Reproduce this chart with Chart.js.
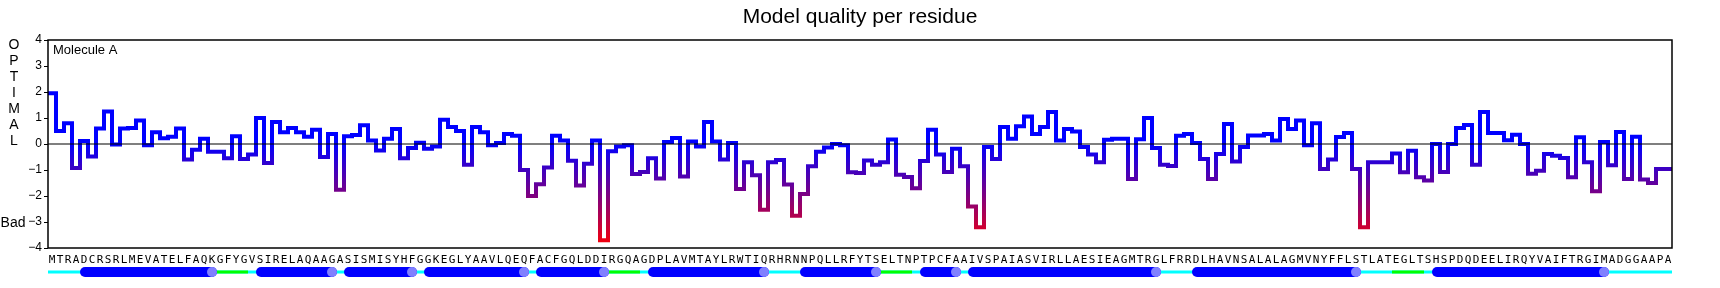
<!DOCTYPE html>
<html>
<head>
<meta charset="utf-8">
<script src="https://cdn.jsdelivr.net/npm/chart.js@4.4.1/dist/chart.umd.min.js"></script>
<style>
    html, body { margin: 0; padding: 0; background: #fff; }
    #wrap { width: 1720px; height: 288px; }
</style>
</head>
<body>
<div id="wrap"><canvas id="chartCalidad"></canvas></div>
<script>
const secuencia = "MTRADCRSRLMEVATELFAQKGFYGVSIRELAQAAGASISMISYHFGGKEGLYAAVLQEQFACFGQLDDIRGQAGDPLAVMTAYLRWTIQRHRNNPQLLRFYTSELTNPTPCFAAIVSPAIASVIRLLAESIEAGMTRGLFRRDLHAVNSALALAGMVNYFFLSTLATEGLTSHSPDQDEELIRQYVAIFTRGIMADGGAAPA".split("");

const calidad = [
    1.95, 0.5, 0.8, -0.92, 0.12, -0.48, 0.6, 1.25, -0.02, 0.6,
    0.62, 0.9, -0.05, 0.45, 0.22, 0.28, 0.6, -0.6, -0.22, 0.2,
    -0.3, -0.3, -0.55, 0.3, -0.58, -0.4, 1.0, -0.73, 0.85, 0.45,
    0.62, 0.45, 0.28, 0.55, -0.5, 0.38, -1.76, 0.3, 0.35, 0.72,
    0.13, -0.25, 0.2, 0.58, -0.55, -0.15, 0.05, -0.18, -0.1, 0.93,
    0.65, 0.5, -0.8, 0.65, 0.45, -0.05, 0.04, 0.38, 0.32, -1.0,
    -2.0, -1.55, -0.9, 0.32, 0.13, -0.64, -1.6, -0.76, 0.13, -3.7,
    -0.28, -0.1, -0.05, -1.15, -1.08, -0.55, -1.33, 0.08, 0.23, -1.25,
    0.1, -0.1, 0.85, 0.1, -0.6, 0.04, -1.73, -0.7, -1.2, -2.53,
    -0.7, -0.62, -1.56, -2.76, -1.92, -0.86, -0.3, -0.13, 0.0, -0.05,
    -1.09, -1.12, -0.63, -0.8, -0.7, 0.17, -1.18, -1.27, -1.7, -0.65,
    0.55, -0.4, -1.08, -0.18, -0.86, -2.4, -3.2, -0.12, -0.58, 0.65,
    0.2, 0.68, 1.06, 0.38, 0.65, 1.23, 0.13, 0.58, 0.48, -0.12,
    -0.4, -0.7, 0.16, 0.2, 0.2, -1.35, 0.18, 1.0, -0.15, -0.8,
    -0.85, 0.32, 0.38, 0.04, -0.58, -1.35, -0.38, 0.77, -0.67, -0.12,
    0.33, 0.33, 0.38, 0.13, 0.96, 0.58, 0.9, -0.05, 0.8, -0.96,
    -0.6, 0.27, 0.42, -0.96, -3.2, -0.7, -0.7, -0.7, -0.37, -1.09,
    -0.26, -1.28, -1.4, 0.0, -1.08, 0.0, 0.62, 0.73, -0.8, 1.23,
    0.42, 0.42, 0.14, 0.36, 0.0, -1.14, -1.03, -0.38, -0.45, -0.54,
    -1.28, 0.26, -0.7, -1.82, 0.08, -0.82, 0.46, -1.35, 0.28, -1.37,
    -1.5, -0.96, -0.96
];

// estructura secundaria (indices de residuo, inclusive)
const heliceInicio = [4, 26, 37, 47, 61, 75, 94, 109, 115, 143, 173];
const heliceFin    = [20, 35, 45, 59, 69, 89, 103, 113, 138, 163, 194];
const giroInicio   = [21, 70, 104, 168];
const giroFin      = [24, 73, 107, 171];

const ticksY = [4, 3, 2, 1, 0, -1, -2, -3, -4];

// puntos escalonados: cada residuo ocupa [i-0.5, i+0.5]
const puntos = calidad.map((v, i) => ({ x: i - 0.5, y: v }));
puntos.push({ x: calidad.length - 0.5, y: calidad[calidad.length - 1] });

const marcoYTextos = {
    id: "marcoYTextos",
    afterDraw(chart) {
        const { ctx, chartArea } = chart;
        const y = chart.scales.y;
        ctx.save();
        // linea del cero
        ctx.strokeStyle = "#000";
        ctx.lineWidth = 1.2;
        ctx.beginPath();
        ctx.moveTo(chartArea.left, y.getPixelForValue(0));
        ctx.lineTo(chartArea.right, y.getPixelForValue(0));
        ctx.stroke();
        // marco
        ctx.lineWidth = 1.5;
        ctx.strokeRect(chartArea.left, chartArea.top, chartArea.right - chartArea.left, chartArea.bottom - chartArea.top);

        ctx.fillStyle = "#000";
        ctx.font = "13px 'Liberation Sans', Arial, sans-serif";
        ctx.textAlign = "left";
        ctx.textBaseline = "top";
        ctx.fillText("Molecule A", chartArea.left + 5, chartArea.top + 4);

        ctx.font = "14px 'Liberation Sans', Arial, sans-serif";
        ctx.textAlign = "center";
        ctx.textBaseline = "middle";
        "OPTIMAL".split("").forEach((c, k) => {
            ctx.fillText(c, 14, chartArea.top + 5 + k * 16);
        });
        ctx.fillText("Bad", 13, y.getPixelForValue(-3.05));
        ctx.restore();
    }
};

const pistaEstructura = {
    id: "pistaEstructura",
    afterDraw(chart) {
        const { ctx } = chart;
        const x = chart.scales.x;
        const yc = x.bottom - 16;
        const px = v => x.getPixelForValue(v);
        ctx.save();
        ctx.lineCap = "butt";
        ctx.lineWidth = 3;
        ctx.strokeStyle = "#00ffff";
        ctx.beginPath();
        ctx.moveTo(px(-0.5), yc);
        ctx.lineTo(px(secuencia.length - 0.5), yc);
        ctx.stroke();

        ctx.strokeStyle = "#00ff00";
        giroInicio.forEach((s, k) => {
            ctx.beginPath();
            ctx.moveTo(px(s - 0.5), yc);
            ctx.lineTo(px(giroFin[k] + 0.5), yc);
            ctx.stroke();
        });

        heliceInicio.forEach((s, k) => {
            const x0 = px(s - 0.5) + 5;
            const x1 = px(heliceFin[k]);
            ctx.lineCap = "round";
            ctx.lineWidth = 10;
            ctx.strokeStyle = "#0000ff";
            ctx.beginPath();
            ctx.moveTo(x0, yc);
            ctx.lineTo(x1, yc);
            ctx.stroke();
            ctx.fillStyle = "#8080ff";
            ctx.beginPath();
            ctx.arc(x1, yc, 5, 0, Math.PI * 2);
            ctx.fill();
        });
        ctx.restore();
    }
};

function colorLinea(c) {
    const chart = c.chart;
    if (!chart.chartArea) return "#0000ff";
    const y = chart.scales.y;
    const g = chart.ctx.createLinearGradient(0, y.getPixelForValue(0), 0, y.getPixelForValue(-4));
    g.addColorStop(0, "#0000ff");
    g.addColorStop(1, "#ff0000");
    return g;
}

new Chart(document.getElementById("chartCalidad"), {
    type: "line",
    data: {
        datasets: [{
            label: "Calidad",
            data: puntos,
            stepped: true,
            borderColor: colorLinea,
            borderWidth: 4,
            borderJoinStyle: "miter",
            pointRadius: 0,
            fill: false,
            tension: 0
        }]
    },
    options: {
        responsive: true,
        maintainAspectRatio: false,
        animation: false,
        layout: { padding: 0 },
        plugins: {
            legend: { display: false },
            tooltip: { enabled: false },
            title: {
                display: true,
                text: "Model quality per residue",
                color: "#000",
                font: { family: "'Liberation Sans', Arial, sans-serif", size: 21, weight: "normal" },
                padding: { top: 5, bottom: 9.8 }
            }
        },
        scales: {
            x: {
                type: "linear",
                min: -0.5,
                max: secuencia.length - 0.5,
                afterBuildTicks: s => { s.ticks = secuencia.map((c, i) => ({ value: i })); },
                afterFit: s => { s.height = 40; },
                grid: { display: false, drawTicks: false },
                border: { display: false },
                ticks: {
                    autoSkip: false,
                    maxRotation: 0,
                    minRotation: 0,
                    padding: 6,
                    color: "#000",
                    font: { family: "'DejaVu Sans Mono', monospace", size: 11 },
                    callback: v => secuencia[v]
                }
            },
            y: {
                min: -4,
                max: 4,
                afterBuildTicks: s => { s.ticks = ticksY.map(v => ({ value: v })); },
                afterFit: s => { s.width = 48; },
                grid: { drawOnChartArea: false, drawTicks: true, tickLength: 4, color: "#000" },
                border: { display: false },
                ticks: {
                    padding: 2,
                    color: "#000",
                    font: { family: "'Liberation Sans', Arial, sans-serif", size: 12 },
                    callback: v => String(v).replace("-", "\u2212")
                }
            },
            derecha: {
                position: "right",
                min: -4,
                max: 4,
                afterFit: s => { s.width = 48; },
                grid: { display: false, drawTicks: false },
                border: { display: false },
                ticks: { display: false }
            }
        }
    },
    plugins: [marcoYTextos, pistaEstructura]
});
</script>
</body>
</html>
